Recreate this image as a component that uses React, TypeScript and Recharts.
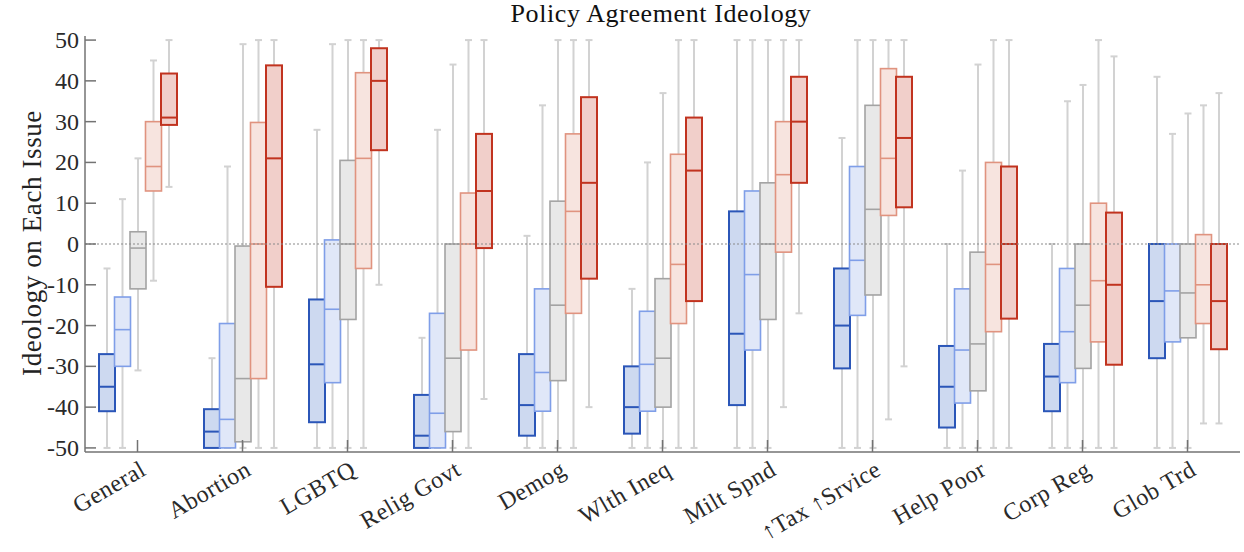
import { ComposedChart, Bar, XAxis, YAxis, ReferenceLine } from 'recharts';

const categories = [
  'General', 'Abortion', 'LGBTQ', 'Relig Govt', 'Demog', 'Wlth Ineq',
  'Milt Spnd', '↑Tax ↑Srvice', 'Help Poor', 'Corp Reg', 'Glob Trd',
];

// each entry: [min, q1, median, q3, max]
const veryLiberal = [
  [-50, -41, -35, -27, -6],
  [-50, -50, -46, -40.5, -28],
  [-50, -43.7, -29.5, -13.6, 28],
  [-50, -50, -47, -37, -23],
  [-50, -47, -39.5, -27, 2],
  [-50, -46.5, -40, -30, -11],
  [-50, -39.5, -22, 8, 50],
  [-50, -30.5, -20, -6, 26],
  [-50, -45, -35, -25, 0],
  [-50, -41, -32.5, -24.5, 0],
  [-50, -28, -14, 0, 41],
];

const liberal = [
  [-50, -30, -21, -13, 11],
  [-50, -50, -43, -19.5, 19],
  [-50, -34, -16, 1, 49],
  [-50, -50, -41.5, -17, 28],
  [-50, -41, -31.5, -11, 34],
  [-50, -41, -29.5, -16.5, 20],
  [-50, -26, -7.5, 13, 50],
  [-50, -17.5, -4, 19, 50],
  [-50, -39, -26, -11, 18],
  [-50, -34, -21.5, -6, 35],
  [-50, -24, -11.5, 0, 27],
];

const moderate = [
  [-31, -11, -1, 3, 21],
  [-50, -48.5, -33, -0.5, 49],
  [-50, -18.5, 0, 20.5, 50],
  [-50, -46, -28, 0, 44],
  [-50, -33.5, -15, 10.5, 50],
  [-50, -40, -28, -8.5, 37],
  [-50, -18.5, 0, 15, 50],
  [-50, -12.5, 8.5, 34, 50],
  [-50, -36, -24.5, -2, 44],
  [-50, -30.5, -15, 0, 39],
  [-50, -23, -12, 0, 32],
];

const conservative = [
  [-9, 13, 19, 30, 45],
  [-50, -33, 0, 29.8, 50],
  [-50, -6, 21, 42, 50],
  [-50, -26, 0, 12.5, 50],
  [-50, -17, 8, 27, 50],
  [-50, -19.5, -5, 22, 50],
  [-40, -2, 17, 30, 50],
  [-43, 7, 21, 43, 50],
  [-50, -21.5, -5, 20, 50],
  [-50, -24, -9, 10, 50],
  [-44, -19.5, -10, 2.3, 34],
];

const veryConservative = [
  [14, 29.2, 31, 41.8, 50],
  [-50, -10.5, 21, 43.8, 50],
  [-10, 23, 40, 48, 50],
  [-38, -1, 13, 27, 50],
  [-40, -8.5, 15, 36, 50],
  [-50, -14, 18, 31, 50],
  [-17, 15, 30, 41, 50],
  [-30, 9, 26, 41, 50],
  [-50, -18.3, 0, 19, 50],
  [-50, -29.6, -10, 7.7, 46],
  [-44, -25.8, -14, 0, 37],
];

const yTicks = [-50, -40, -30, -20, -10, 0, 10, 20, 30, 40, 50];

const series = [
  { key: 'vl', values: veryLiberal, stroke: '#2b56b8', fill: '#cdd9f0', sw: 2 },
  { key: 'l', values: liberal, stroke: '#7f9ee8', fill: '#e0e7f8', sw: 1.6 },
  { key: 'm', values: moderate, stroke: '#a3a3a3', fill: '#e8e8e8', sw: 1.6 },
  { key: 'c', values: conservative, stroke: '#e0937f', fill: '#f7e4df', sw: 1.6 },
  { key: 'vc', values: veryConservative, stroke: '#c1331f', fill: '#f1cfca', sw: 2 },
];

const data = categories.map((name, i) => {
  const row: any = { name };
  series.forEach((s) => { row[s.key] = s.values[i]; });
  return row;
});

const WHISKER = '#d2d2d2';
const AXIS = '#737373';
const FONT = '"Liberation Serif", "DejaVu Serif", serif';

// bar spans [min, max]; the box, median and caps are placed inside it
const BoxShape = (props: any) => {
  const { x, y, width, height, stats, stroke, fill, sw } = props;
  if (!stats) return null;
  const [min, q1, med, q3, max] = stats;
  const top = Math.min(y, y + height);
  const h = Math.abs(height);
  const k = h / (max - min);
  const py = (v: number) => top + (max - v) * k;
  const cx = x + width / 2;
  return (
    <g>
      <line x1={cx} x2={cx} y1={py(max)} y2={py(min)} stroke={WHISKER} strokeWidth={2} />
      <line x1={cx - 3.5} x2={cx + 3.5} y1={py(max)} y2={py(max)} stroke={WHISKER} strokeWidth={2} />
      <line x1={cx - 3.5} x2={cx + 3.5} y1={py(min)} y2={py(min)} stroke={WHISKER} strokeWidth={2} />
      <rect x={x} y={py(q3)} width={width} height={py(q1) - py(q3)} fill={fill} stroke={stroke} strokeWidth={sw} />
      <line x1={x} x2={x + width} y1={py(med)} y2={py(med)} stroke={stroke} strokeWidth={sw} />
    </g>
  );
};

const YTick = (props: any) => {
  const { x, y, payload } = props;
  return (
    <g>
      <line x1={x} x2={x + 11} y1={y} y2={y} stroke={AXIS} strokeWidth={1.5} />
      <text x={x - 6} y={y} dy={8} textAnchor="end" fontFamily={FONT} fontSize={24} fill="#2a2a2a">
        {payload.value}
      </text>
    </g>
  );
};

const XTick = (props: any) => {
  const { x, y, payload } = props;
  const tx = x + 10;
  const ty = y + 22;
  return (
    <g>
      <line x1={x} x2={x} y1={y} y2={y - 12} stroke={AXIS} strokeWidth={1.5} />
      <text x={tx} y={ty} textAnchor="end" transform={`rotate(-30, ${tx}, ${ty})`} fontFamily={FONT} fontSize={24} fill="#2a2a2a" letterSpacing={0.5}>
        {payload.value}
      </text>
    </g>
  );
};

export default function App() {
  return (
    <div style={{ position: 'absolute', left: 0, top: 0, width: 1244, height: 552, background: '#fff' }}>
      <div style={{ position: 'absolute', left: 661, top: -1, transform: 'translateX(-50%)', fontFamily: FONT, fontSize: 26, letterSpacing: 0.6, color: '#111', whiteSpace: 'nowrap' }}>
        Policy Agreement Ideology
      </div>
      <div style={{ position: 'absolute', left: 32, top: 243, transform: 'translate(-50%, -50%) rotate(-90deg)', fontFamily: FONT, fontSize: 27, letterSpacing: 0.6, color: '#222', whiteSpace: 'nowrap' }}>
        Ideology on Each Issue
      </div>
      <ComposedChart
        width={1244}
        height={552}
        data={data}
        margin={{ top: 36, right: 4, bottom: 0, left: 0 }}
        barSize={16}
        barGap={-0.5}
        barCategoryGap={0}
      >
        <XAxis
          dataKey="name"
          height={100}
          interval={0}
          tickSize={0}
          tickMargin={0}
          tickLine={false}
          axisLine={{ stroke: AXIS, strokeWidth: 1.5 }}
          tick={<XTick />}
        />
        <YAxis
          width={85}
          domain={[-51, 51]}
          ticks={yTicks}
          tickSize={0}
          tickMargin={0}
          tickLine={false}
          axisLine={{ stroke: AXIS, strokeWidth: 1.5 }}
          tick={<YTick />}
        />
        <ReferenceLine y={0} stroke="#8a8a8a" strokeDasharray="2 2" strokeWidth={1.2} />
        {series.map((s) => (
          <Bar
            key={s.key}
            dataKey={(d: any) => [d[s.key][0], d[s.key][4]]}
            isAnimationActive={false}
            shape={(p: any) => (
              <BoxShape {...p} stats={p.payload[s.key]} stroke={s.stroke} fill={s.fill} sw={s.sw} />
            )}
          />
        ))}
      </ComposedChart>
    </div>
  );
}
